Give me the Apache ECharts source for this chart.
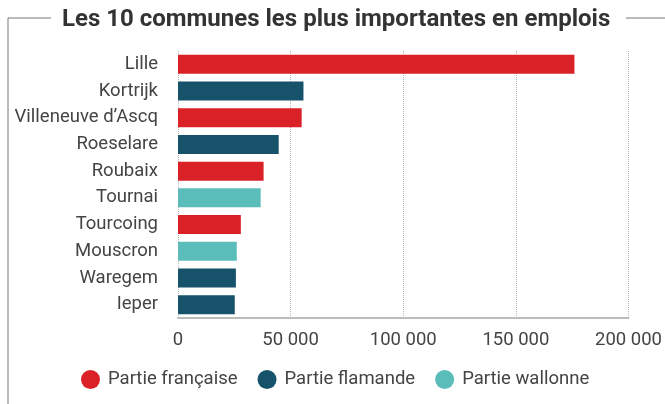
<!DOCTYPE html>
<html>
<head>
<meta charset="utf-8">
<script src="https://cdn.jsdelivr.net/npm/echarts@6/dist/echarts.min.js"></script>
<style>
html, body { margin: 0; padding: 0; background: #fff; }
#chart { width: 665px; height: 404px; }
</style>
</head>
<body>
<div id="chart"></div>
<script>
// communes, du plus grand au plus petit
var communes = ['Lille', 'Kortrijk', 'Villeneuve d\u2019Ascq', 'Roeselare', 'Roubaix', 'Tournai', 'Tourcoing', 'Mouscron', 'Waregem', 'Ieper'];
// nombre d'emplois par partie ('-' = autre partie)
var francaise = [176000, '-', 54900, '-', 38000, '-', 27900, '-', '-', '-'];
var flamande  = ['-', 55700, '-', 44700, '-', '-', '-', '-', 25700, 25200];
var wallonne  = ['-', '-', '-', '-', '-', 36700, '-', 26100, '-', '-'];
var legendNames = ['Partie fran\u00e7aise', 'Partie flamande', 'Partie wallonne'];
var couleurs = ['#da2128', '#16536a', '#5bbdb9'];

function fmt(v) {
	return String(v).replace(/\B(?=(\d{3})+(?!\d))/g, ' ');
}

function serie(nom, data, col) {
	return {
		name: nom,
		type: 'bar',
		stack: 'tot',
		barWidth: 19,
		itemStyle: {color: col},
		data: data
	};
}

var option = {
	animation: false,
	textStyle: {fontFamily: 'Roboto'},
	title: {
		text: 'Les 10 communes les plus importantes en emplois',
		left: 57,
		top: 3,
		textStyle: {fontSize: 24, fontWeight: 'bold', color: '#333', fontFamily: 'Roboto'}
	},
	graphic: [
		{type: 'polyline', shape: {points: [[8, 404], [8, 18], [51, 18]]}, style: {stroke: '#777', lineWidth: 1, fill: null}},
		{type: 'line', shape: {x1: 626, y1: 18, x2: 665, y2: 18}, style: {stroke: '#777', lineWidth: 1}}
	],
	legend: {
		data: legendNames,
		left: 76,
		top: 365,
		icon: 'circle',
		itemWidth: 19,
		itemHeight: 19,
		itemGap: 20,
		textStyle: {fontSize: 18.5, color: '#444', fontFamily: 'Roboto', padding: [0, 0, 0, 3]}
	},
	grid: {left: 178, right: 35, top: 51, bottom: 86},
	xAxis: {
		type: 'value',
		min: 0,
		max: 200000,
		interval: 50000,
		axisLine: {show: true, lineStyle: {color: '#bbb', width: 2}},
		axisTick: {show: false},
		splitLine: {lineStyle: {color: '#b5b5b5', type: 'dotted'}},
		axisLabel: {formatter: fmt, fontSize: 18.5, color: '#444', margin: 13}
	},
	yAxis: {
		type: 'category',
		inverse: true,
		data: communes,
		axisLine: {show: false},
		axisTick: {show: false},
		axisLabel: {fontSize: 18.5, color: '#444', margin: 20}
	},
	series: [
		serie(legendNames[0], francaise, couleurs[0]),
		serie(legendNames[1], flamande, couleurs[1]),
		serie(legendNames[2], wallonne, couleurs[2])
	]
};

var myChart = echarts.init(document.getElementById('chart'));
myChart.setOption(option);
</script>
</body>
</html>
